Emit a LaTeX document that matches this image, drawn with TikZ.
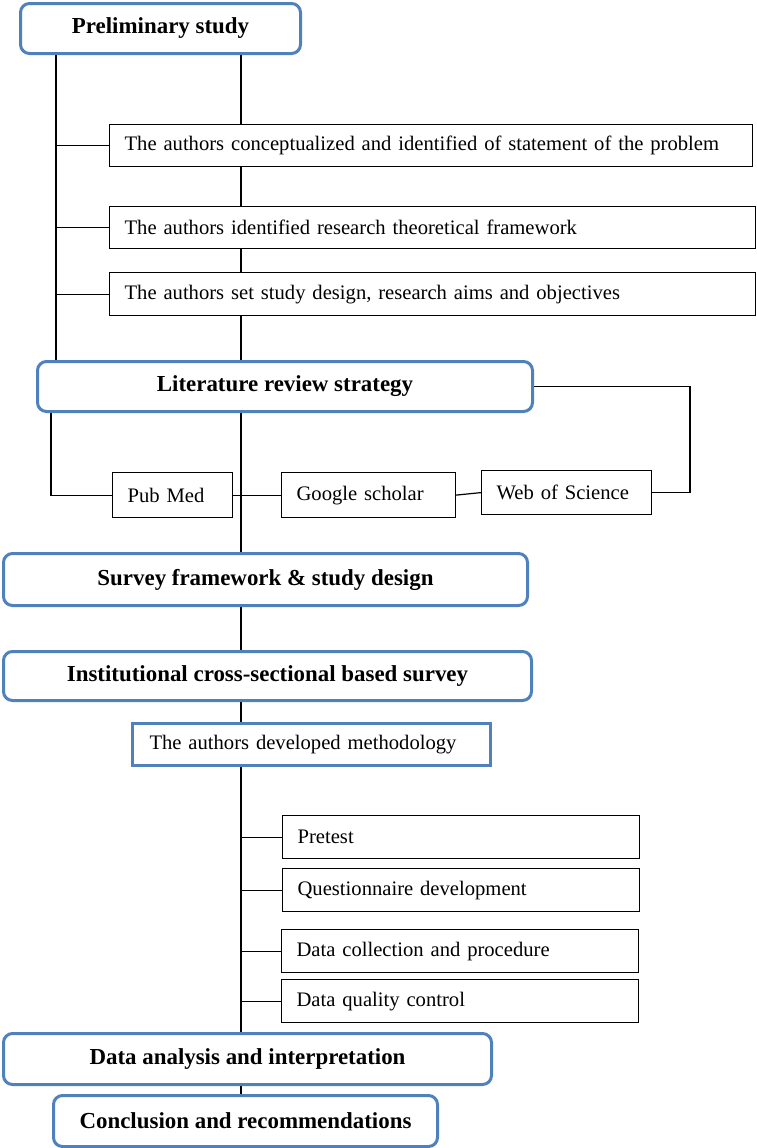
\documentclass[tikz,border=0pt]{standalone}
\usepackage{fontspec}
\setmainfont{Liberation Serif}
\definecolor{boxblue}{RGB}{79,129,189}

\begin{document}
\begin{tikzpicture}[
    x=1bp, y=-1bp,
    phase/.style={draw=boxblue, line width=3bp, rounded corners=9bp, anchor=north west, inner sep=0pt, align=center, font=\bfseries\fontsize{23}{27}\selectfont},
    task/.style={draw, line width=1.2bp, anchor=north west, inner xsep=15bp, inner ysep=0pt, align=left, font=\fontsize{20.7}{25}\selectfont},
    method/.style={task, draw=boxblue, line width=3bp, inner xsep=17bp},
    link/.style={line width=1.2bp}
]
\useasboundingbox (0,0) rectangle (757,1148);

% ---- helper coordinates ----
\coordinate (spine) at (241,0);
\coordinate (lspine) at (56,0);
\coordinate (litl) at (51,0);
\coordinate (wosr) at (690,0);

% ---- nodes ----
\node[phase, minimum width=280bp, minimum height=50bp] (prelim) at (19,2) {Preliminary study};
\node[task, text width=613bp, minimum height=42bp] (stmt) at (109,124) {The authors conceptualized and identified of statement of the problem};
\node[task, text width=616bp, minimum height=42bp] (frame) at (109,206) {The authors identified research theoretical framework};
\node[task, text width=616bp, minimum height=43bp] (aims) at (109,272) {The authors set study design, research aims and objectives};

\node[phase, minimum width=495bp, minimum height=50bp] (lit) at (36,360) {Literature review strategy};
\node[task, text width=90bp, minimum height=45bp] (pubmed) at (112,472) {Pub Med};
\node[task, text width=144bp, minimum height=45bp] (google) at (281,472) {Google scholar};
\node[task, text width=140bp, minimum height=44bp] (wos) at (481,470) {Web of Science};

\node[phase, minimum width=524bp, minimum height=52bp] (survey) at (2,552) {Survey framework \& study design};
\node[phase, minimum width=528bp, minimum height=49bp] (inst) at (2,650) {Institutional cross-sectional based survey};
\node[method, text width=324bp, minimum height=42bp] (method) at (131,722) {The authors developed methodology};

\node[task, text width=327bp, minimum height=43bp] (pretest) at (282,815) {Pretest};
\node[task, text width=327bp, minimum height=43bp] (quest) at (282,868) {Questionnaire development};
\node[task, text width=327bp, minimum height=43bp] (collect) at (281,929) {Data collection and procedure};
\node[task, text width=327bp, minimum height=43bp] (quality) at (281,979) {Data quality control};

\node[phase, minimum width=488bp, minimum height=51bp] (analysis) at (2,1032) {Data analysis and interpretation};
\node[phase, minimum width=384bp, minimum height=51bp] (conc) at (52,1094) {Conclusion and recommendations};

% ---- connectors ----
\draw[link] (prelim.south -| spine) -- (stmt.north -| spine);
\draw[link] (stmt.south -| spine) -- (frame.north -| spine);
\draw[link] (frame.south -| spine) -- (aims.north -| spine);
\draw[link] (aims.south -| spine) -- (lit.north -| spine);
\draw[link] (prelim.south -| lspine) -- (lit.north -| lspine);
\foreach \b in {stmt,frame,aims}
    \draw[link] (\b.west -| lspine) -- (\b.west);

\draw[link] (lit.south -| litl) |- (pubmed.west);
\draw[link] (lit.south -| spine) -- (survey.north -| spine);
\draw[link] (pubmed.east) -- (google.west);
\draw[link] (google.east) -- (wos.west);
\draw[link] (wos.east) -| (wosr |- lit.east) -- (lit.east);

\draw[link] (survey.south -| spine) -- (inst.north -| spine);
\draw[link] (inst.south -| spine) -- (method.north -| spine);
\draw[link] (method.south -| spine) -- (analysis.north -| spine);
\foreach \b in {pretest,quest,collect,quality}
    \draw[link] (\b.west -| spine) -- (\b.west);
\draw[link] (analysis.south -| spine) -- (conc.north -| spine);

\end{tikzpicture}
\end{document}
